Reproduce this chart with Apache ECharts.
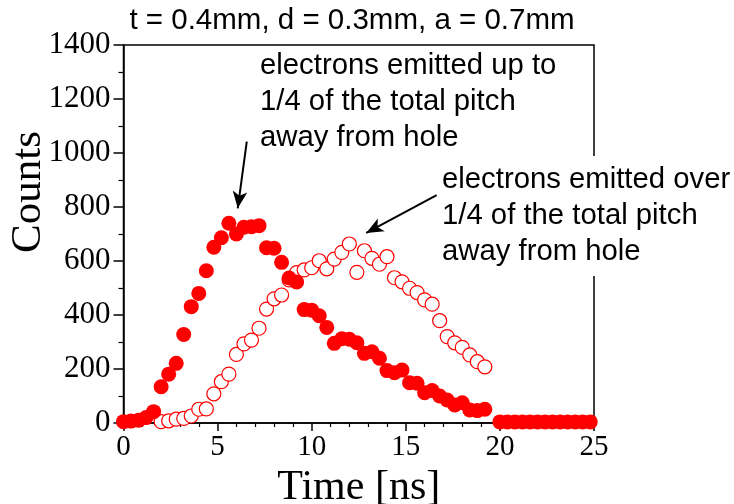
<!DOCTYPE html>
<html>
<head>
<meta charset="utf-8">
<script src="https://cdn.jsdelivr.net/npm/echarts@6/dist/echarts.min.js"></script>
<style>
  html, body { margin: 0; padding: 0; background: #fff; }
  #chart { width: 734px; height: 504px; }
</style>
</head>
<body>
<div id="chart"></div>
<script>
// time axis samples (ns)
const timeNear = [0, 0.4, 0.8, 1.2, 1.6, 2.0, 2.4, 2.8, 3.2, 3.6, 4.0, 4.4, 4.8, 5.2, 5.6, 6.0, 6.4, 6.8, 7.2, 7.6,
  8.0, 8.4, 8.8, 9.2, 9.6, 10.0, 10.4, 10.8, 11.2, 11.6, 12.0, 12.4, 12.8, 13.2, 13.6, 14.0, 14.4, 14.8, 15.2, 15.6,
  16.0, 16.4, 16.8, 17.2, 17.6, 18.0, 18.4, 18.8, 19.2, 20.0, 20.4, 20.8, 21.2, 21.6, 22.0, 22.4, 22.8, 23.2, 23.6,
  24.0, 24.4, 24.8];
// electrons emitted up to 1/4 pitch (filled)
const countsNear = [5, 7, 10, 20, 42, 134, 181, 221, 328, 431, 480, 564, 651, 686, 740, 700, 725, 727, 731, 649,
  647, 595, 537, 522, 420, 418, 397, 354, 295, 312, 310, 297, 258, 264, 240, 194, 186, 196, 149, 147,
  112, 120, 100, 85, 67, 75, 48, 46, 51, 4, 4, 4, 4, 4, 4, 4, 4, 4, 4,
  4, 4, 4];

const timeFar = [2.0, 2.4, 2.8, 3.2, 3.6, 4.0, 4.4, 4.8, 5.2, 5.6, 6.0, 6.4, 6.8, 7.2, 7.6, 8.0, 8.4, 8.8, 9.2, 9.6,
  10.0, 10.4, 10.8, 11.2, 11.6, 12.0, 12.4, 12.8, 13.2, 13.6, 14.0, 14.4, 14.8, 15.2, 15.6, 16.0, 16.4, 16.8, 17.2,
  17.6, 18.0, 18.4, 18.8, 19.2];
// electrons emitted over 1/4 pitch (open)
const countsFar = [5, 8, 14, 17, 26, 51, 52, 108, 153, 181, 254, 293, 307, 351, 422, 460, 474, 530, 557, 567,
  575, 601, 571, 607, 632, 663, 558, 638, 610, 588, 616, 538, 523, 499, 483, 456, 440, 379, 320,
  297, 280, 252, 227, 208];

const xTicks = [0, 5, 10, 15, 20, 25];
const yTicks = [0, 200, 400, 600, 800, 1000, 1200, 1400];

const serif = 'Liberation Serif';
const sans = 'Liberation Sans';

const chart = echarts.init(document.getElementById('chart'));

const pairs = (xs, ys) => xs.map((x, i) => [x, ys[i]]);

chart.setOption({
  animation: false,
  grid: {
    left: 123.5, right: 140, top: 45, bottom: 81,
    containLabel: false, outerBoundsMode: 'none',
    show: true, borderColor: '#000', borderWidth: 1.5, backgroundColor: 'transparent'
  },
  xAxis: {
    type: 'value',
    min: xTicks[0], max: xTicks[xTicks.length - 1], interval: 5,
    name: 'Time [ns]', nameLocation: 'middle', nameGap: 33,
    nameTextStyle: { fontFamily: serif, fontSize: 42, color: '#000' },
    axisLine: { show: true, onZero: false, lineStyle: { color: '#000', width: 1.5 } },
    axisTick: { show: true, inside: false, length: 8, lineStyle: { color: '#000', width: 1.5 } },
    minorTick: { show: true, splitNumber: 5, length: 4, lineStyle: { color: '#000', width: 1.2 } },
    axisLabel: { fontFamily: serif, fontSize: 29, color: '#000', margin: 10, formatter: v => String(v) },
    splitLine: { show: false }
  },
  yAxis: {
    type: 'value',
    min: yTicks[0], max: yTicks[yTicks.length - 1], interval: 200,
    axisLine: { show: true, onZero: false, lineStyle: { color: '#000', width: 1.5 } },
    axisTick: { show: true, inside: false, length: 10, lineStyle: { color: '#000', width: 1.5 } },
    minorTick: { show: true, splitNumber: 2, length: 5, lineStyle: { color: '#000', width: 1.2 } },
    axisLabel: { fontFamily: serif, fontSize: 31, color: '#000', margin: 13, formatter: v => String(v) },
    splitLine: { show: false }
  },
  series: [
    {
      name: 'over 1/4 pitch',
      type: 'scatter',
      symbol: 'circle',
      symbolSize: 14,
      itemStyle: { color: '#fff', borderColor: '#ff0000', borderWidth: 1.2, opacity: 1 },
      data: pairs(timeFar, countsFar),
      z: 2
    },
    {
      name: 'up to 1/4 pitch',
      type: 'scatter',
      symbol: 'circle',
      symbolSize: 15,
      itemStyle: { color: '#ff0000', opacity: 1 },
      data: pairs(timeNear, countsNear),
      z: 3,
      markLine: {
        silent: true,
        symbol: ['none', 'arrow'],
        symbolSize: [11, 17],
        label: { show: false },
        lineStyle: { color: '#000', width: 2, type: 'solid' },
        data: [
          [{ coord: [6.55, 1042] }, { coord: [6.07, 795] }],
          [{ coord: [16.64, 844] }, { coord: [12.9, 704] }]
        ]
      }
    }
  ],
  graphic: [
    {
      // y axis title, sits above the grid centre as in the original
      type: 'text', x: 29, y: 192, rotation: Math.PI / 2, z: 100,
      style: { text: 'Counts', fontFamily: serif, fontSize: 43, fill: '#000', align: 'center', verticalAlign: 'middle' }
    },
    {
      type: 'text', x: 352, y: 6, z: 100,
      style: { text: 't = 0.4mm, d = 0.3mm, a = 0.7mm', fontFamily: sans, fontSize: 29.5, fill: '#000', align: 'center' }
    },
    {
      type: 'text', x: 260, y: 48, z: 100,
      style: {
        text: 'electrons emitted up to\n1/4 of the total pitch\naway from hole',
        fontFamily: sans, fontSize: 29.3, lineHeight: 36, fill: '#000'
      }
    },
    {
      type: 'text', x: 442, y: 156, z: 100,
      style: {
        text: 'electrons emitted over\n1/4 of the total pitch\naway from hole',
        fontFamily: sans, fontSize: 29.3, lineHeight: 36, fill: '#000',
        backgroundColor: '#fff', padding: [6, 0, 6, 0]
      }
    }
  ]
});
</script>
</body>
</html>
